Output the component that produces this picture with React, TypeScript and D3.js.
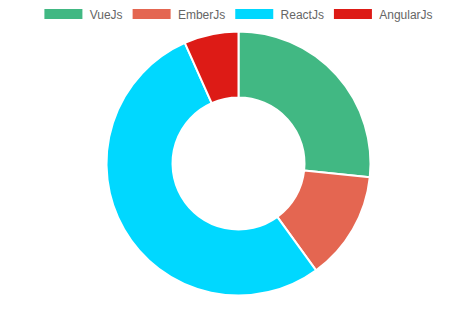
import React, { useEffect, useRef } from "react";
import * as d3 from "d3";

const labels = ["VueJs", "EmberJs", "ReactJs", "AngularJs"];
const values = [40, 20, 80, 10];
const colors = ["#41B883", "#E46651", "#00D8FF", "#DD1B16"];

const W = 473;
const H = 309;

export default function App() {
  const ref = useRef<SVGSVGElement | null>(null);

  useEffect(() => {
    const svg = d3.select(ref.current);
    svg.selectAll("*").remove();

    const cx = 238.5;
    const cy = 163.5;
    const outerR = 132;
    const innerR = 66;

    const pie = d3.pie<number>().sort(null).value((d) => d);
    const arcs = pie(values);
    const arc = d3.arc<d3.PieArcDatum<number>>().innerRadius(innerR).outerRadius(outerR);

    const g = svg.append("g").attr("transform", `translate(${cx},${cy})`);
    g.selectAll("path")
      .data(arcs)
      .join("path")
      .attr("d", arc as any)
      .attr("fill", (_d, i) => colors[i])
      .attr("stroke", "#fff")
      .attr("stroke-width", 2)
      .attr("stroke-linejoin", "round");

    // legend
    const legend = svg.append("g");
    const boxW = 38;
    const boxH = 10;
    const gapText = 7.3;
    const gapItem = 10;
    const font = "12px 'Liberation Sans', Arial, Helvetica, sans-serif";
    const items = labels.map((l, i) => {
      const t = legend
        .append("text")
        .text(l)
        .style("font", font)
        .attr("fill", "#666")
        .attr("dominant-baseline", "central")
        .attr("y", 14.5);
      const w = (t.node() as SVGTextElement).getComputedTextLength();
      return { t, w, i };
    });
    const total = items.reduce((s, it) => s + boxW + gapText + it.w, 0) + gapItem * (items.length - 1);
    let x = cx - total / 2;
    items.forEach((it) => {
      legend
        .append("rect")
        .attr("x", x)
        .attr("y", 9)
        .attr("width", boxW)
        .attr("height", boxH)
        .attr("fill", colors[it.i]);
      it.t.attr("x", x + boxW + gapText);
      x += boxW + gapText + it.w + gapItem;
    });
  }, []);

  return (
    <svg
      ref={ref}
      width={W}
      height={H}
      style={{ position: "absolute", left: 0, top: 0, background: "#fff" }}
    />
  );
}
